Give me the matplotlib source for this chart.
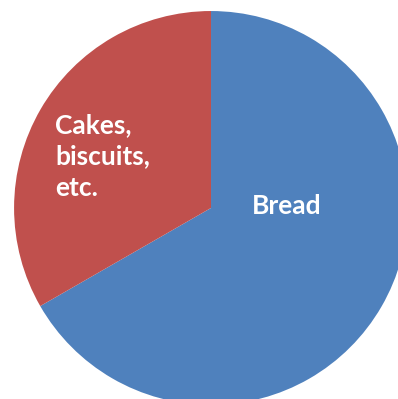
import matplotlib.pyplot as plt

# share of flour use
labels = ["Bread", "Cakes,\nbiscuits,\netc."]
shares = [66.7, 33.3]
colors = ["#4F81BD", "#C0504D"]

fig = plt.figure(figsize=(3.98, 3.99), dpi=100)
ax = fig.add_axes([0, 0, 1, 1])

ax.pie(shares, colors=colors, startangle=90, counterclock=False,
       radius=1.0, wedgeprops=dict(linewidth=0))

# pie slightly cut off on the right and bottom
ax.set_xlim(-1.071, 0.949)
ax.set_ylim(-0.970, 1.056)
ax.set_aspect("equal")
ax.axis("off")

font = dict(family="Lato", weight="bold", color="white", fontsize=19)
ax.text(0.386, -0.03, labels[0], ha="center", va="baseline", **font)
ax.text(-0.79, 0.48, labels[1], ha="left", va="top", linespacing=1.36, **font)

fig.savefig("out.png", dpi=100, facecolor="white")
